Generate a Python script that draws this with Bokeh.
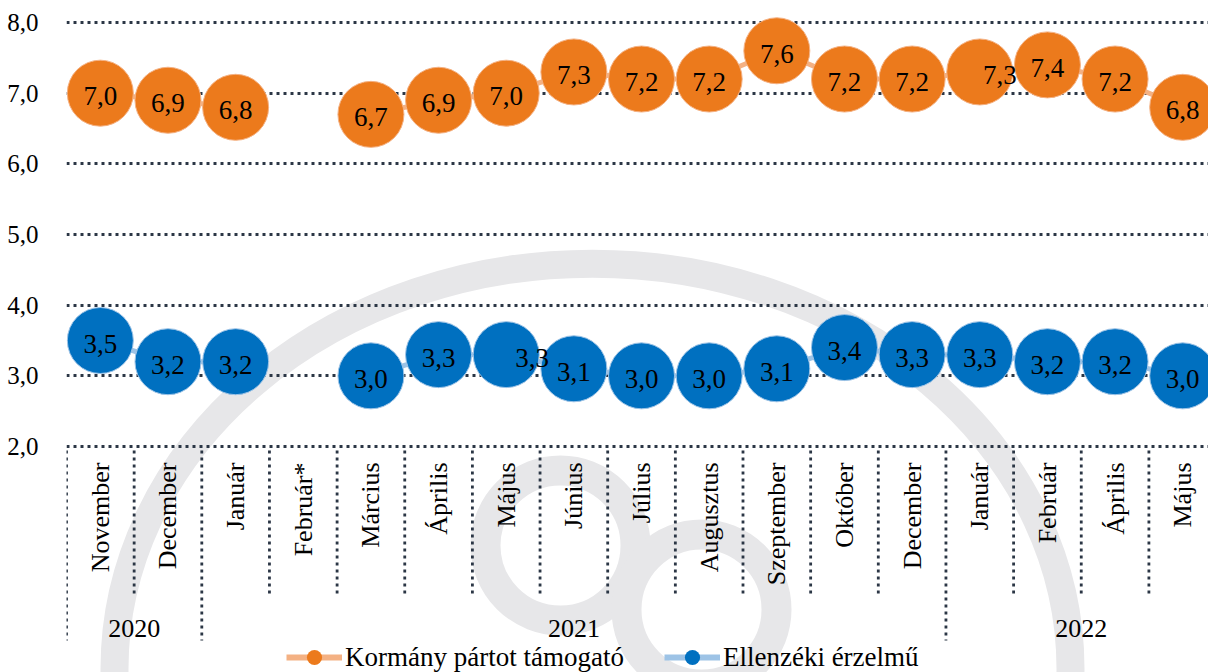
import math
from bokeh.plotting import figure
from bokeh.models import (Range1d, FixedTicker, ColumnDataSource, Legend, LegendItem,
                          CustomJSTickFormatter)
from bokeh.core.properties import value
from bokeh.embed import file_html
from bokeh.resources import INLINE

# ---------------- data ----------------
months = ["November", "December", "Január", "Február*", "Március", "Április", "Május",
          "Június", "Július", "Augusztus", "Szeptember", "Október", "December",
          "Január", "Február", "Április", "Május"]
years = ["2020", "2020", "2021", "2021", "2021", "2021", "2021", "2021", "2021",
         "2021", "2021", "2021", "2021", "2022", "2022", "2022", "2022"]
nan = float("nan")
gov = [7.0, 6.9, 6.8, nan, 6.7, 6.9, 7.0, 7.3, 7.2, 7.2, 7.6, 7.2, 7.2, 7.3, 7.4, 7.2, 6.8]
opp = [3.5, 3.2, 3.2, nan, 3.0, 3.3, 3.3, 3.1, 3.0, 3.0, 3.1, 3.4, 3.3, 3.3, 3.2, 3.2, 3.0]
series_names = ["Kormány pártot támogató", "Ellenzéki érzelmű"]
y_ticks = [2, 3, 4, 5, 6, 7, 8]

# ---------------- style / layout ----------------
FONT = value("Liberation Serif")
ORANGE, ORANGE_LIGHT = "#EC7A1C", "#F4B183"
BLUE, BLUE_LIGHT = "#0070C0", "#9DC3E6"
DOT = "#2B3645"
DOT_DASH = "3 4"
DOT_W = 2.8
WM = "#E7E7E9"
W, H = 1208, 672
LEFT = 66
PXY = 424 / 6.0              # pixels per y unit
Y1 = 8 + 22 / PXY            # top of canvas
Y0 = 2 - 226 / PXY           # bottom of canvas
PXX = 67.65                  # pixels per category
X_END = (W - LEFT) / PXX
# label nudges (pixels) for overlapping labels: (series index, category index) -> dx
label_nudge = {(1, 6): 26, (0, 13): 20}
LABEL_DROP = 3 / PXY


def px2x(px):
    return (px - LEFT) / PXX


def py2y(py):
    return 2.0 - (py - 446) / PXY


p = figure(width=W, height=H, x_range=Range1d(0, X_END), y_range=Range1d(Y0, Y1),
           output_backend="svg", toolbar_location=None, x_axis_location=None,
           min_border_left=LEFT, min_border_right=0, min_border_top=0, min_border_bottom=0)
p.outline_line_color = None
p.background_fill_color = "white"
p.border_fill_color = "white"

# y axis
ax = p.yaxis[0]
ax.ticker = FixedTicker(ticks=y_ticks)
ax.formatter = CustomJSTickFormatter(code="return tick.toFixed(1).replace('.', ',')")
ax.axis_line_color = None
ax.major_tick_line_color = None
ax.minor_tick_line_color = None
ax.major_label_standoff = 22
ax.major_label_text_font = "Liberation Serif"
ax.major_label_text_font_size = "25px"
ax.major_label_text_color = "black"

p.xgrid.visible = False
p.ygrid.ticker = FixedTicker(ticks=y_ticks)
p.ygrid.grid_line_color = DOT
p.ygrid.grid_line_dash = DOT_DASH
p.ygrid.grid_line_width = DOT_W

# watermark (decorative logo rings, behind everything)
p.ellipse(x=[px2x(592)], y=[py2y(668)], width=[2 * 478 / PXX], height=[2 * 405 / PXY],
          fill_color=None, line_color=WM, line_width=28, level="image")
p.scatter(x=[px2x(560), px2x(701)], y=[py2y(545), py2y(609)], size=150, marker="circle",
          fill_color=None, line_color=WM, line_width=30, level="image")

# category geometry
n = len(months)
centers = [i + 0.5 for i in range(n)]

# series
series = [(gov, ORANGE, ORANGE_LIGHT), (opp, BLUE, BLUE_LIGHT)]
legend_items = []
for si, (vals, col, light) in enumerate(series):
    p.line(x=centers, y=vals, line_color=light, line_width=5)
    idx = [i for i, v in enumerate(vals) if not math.isnan(v)]
    src = ColumnDataSource(dict(
        x=[centers[i] for i in idx],
        y=[vals[i] for i in idx],
        ly=[vals[i] - LABEL_DROP for i in idx],
        lab=[f"{vals[i]:.1f}".replace(".", ",") for i in idx],
        dx=[label_nudge.get((si, i), 0) for i in idx],
    ))
    p.scatter(x="x", y="y", source=src, size=66, marker="circle",
              fill_color=col, line_color=light, line_width=1)
    p.text(x="x", y="ly", text="lab", source=src, x_offset="dx",
           text_font=FONT, text_font_size="27px", text_color="black",
           text_align="center", text_baseline="middle")
    # legend proxy renderers (placed off-view)
    lr = p.line(x=[-10, -9], y=[-10, -10], line_color=light, line_width=6)
    mr = p.scatter(x=[-10], y=[-10], size=15, marker="circle", fill_color=col, line_color=None)
    legend_items.append(LegendItem(label=series_names[si], renderers=[lr, mr]))

# category separators
bounds = list(range(n + 1))
year_bounds = [0] + [i for i in range(1, n) if years[i] != years[i - 1]] + [n]
short_low = py2y(593)
long_low = py2y(640)
seg_y1 = [long_low if b in year_bounds else short_low for b in bounds]
p.segment(x0=bounds, y0=[py2y(450)] * len(bounds), x1=bounds, y1=seg_y1,
          line_color=DOT, line_dash=DOT_DASH, line_width=DOT_W)

# month labels (rotated)
p.text(x=centers, y=[py2y(462)] * n, text=months, angle=math.pi / 2,
       text_font=FONT, text_font_size="26px", text_color="black",
       text_align="right", text_baseline="middle")

# year labels
yx, yl = [], []
for a, b in zip(year_bounds[:-1], year_bounds[1:]):
    yx.append((a + b) / 2)
    yl.append(years[a])
p.text(x=yx, y=[py2y(628)] * len(yx), text=yl, text_font=FONT, text_font_size="26px",
       text_color="black", text_align="center", text_baseline="middle")

legend = Legend(items=legend_items, location=(220, -4), orientation="horizontal",
                glyph_width=56, glyph_height=38, label_standoff=3, spacing=40,
                padding=0, margin=0, border_line_color=None, background_fill_alpha=0,
                label_text_font="Liberation Serif", label_text_font_size="27px",
                label_text_color="black")
p.add_layout(legend, "center")

open("out.html", "w").write(file_html(p, INLINE))
